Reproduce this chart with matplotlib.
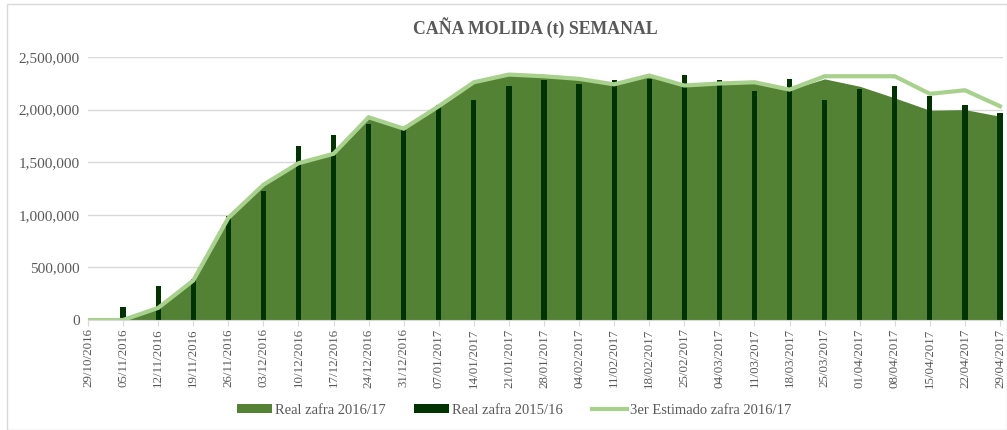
import matplotlib
matplotlib.use("Agg")
import matplotlib.pyplot as plt
from matplotlib.ticker import FuncFormatter
from matplotlib.patches import Rectangle, Patch
from matplotlib.lines import Line2D
import numpy as np

weeks = ['29/10/2016', '05/11/2016', '12/11/2016', '19/11/2016', '26/11/2016',
         '03/12/2016', '10/12/2016', '17/12/2016', '24/12/2016', '31/12/2016',
         '07/01/2017', '14/01/2017', '21/01/2017', '28/01/2017', '04/02/2017',
         '11/02/2017', '18/02/2017', '25/02/2017', '04/03/2017', '11/03/2017',
         '18/03/2017', '25/03/2017', '01/04/2017', '08/04/2017', '15/04/2017',
         '22/04/2017', '29/04/2017']

real_2016_17 = [0, 0, 115000, 375000, 970000, 1285000, 1490000, 1580000, 1927000,
                1819000, 2032000, 2260000, 2333000, 2317000, 2292000, 2240000,
                2324000, 2229000, 2248000, 2260000, 2190000, 2292000, 2222000,
                2111000, 1994000, 2000000, 1937000]

real_2015_16 = [0, 127000, 324000, 388000, 984000, 1222000, 1657000, 1755000, 1863000,
                1810000, 2041000, 2095000, 2229000, 2286000, 2245000, 2279000,
                2295000, 2327000, 2286000, 2181000, 2292000, 2089000, 2197000,
                2229000, 2127000, 2048000, 1968000]

estimado_2016_17 = [0, 0, 115000, 375000, 970000, 1285000, 1490000, 1580000, 1927000,
                    1819000, 2032000, 2260000, 2333000, 2317000, 2292000, 2240000,
                    2324000, 2229000, 2248000, 2260000, 2190000, 2317000, 2317000,
                    2317000, 2150000, 2184000, 2032000]

series_names = ['Real zafra 2016/17', 'Real zafra 2015/16', '3er Estimado zafra 2016/17']
title = 'CAÑA MOLIDA (t) SEMANAL'

C_AREA = '#548235'
C_BAR = '#003300'
C_LINE = '#A9D18E'
C_GRID = '#D9D9D9'
C_TEXT = '#595959'

plt.rcParams['font.family'] = ['Liberation Serif', 'DejaVu Serif']

W, H = 1007, 430
fig = plt.figure(figsize=(W / 100, H / 100), dpi=100)

# chart border
fig.patches.append(Rectangle((7 / W, 0), (W - 7) / W, 1 - 4 / H, transform=fig.transFigure,
                             fill=False, edgecolor=C_GRID, linewidth=1.0))

left, right, top, bottom = 88, 1003, 57, 320
ax = fig.add_axes([left / W, 1 - bottom / H, (right - left) / W, (bottom - top) / H])

x = np.arange(len(weeks))
ax.fill_between(x, real_2016_17, 0, color=C_AREA, linewidth=0, zorder=2)
ax.bar(x, real_2015_16, width=0.15, color=C_BAR, zorder=3)
ax.plot(x, estimado_2016_17, color=C_LINE, linewidth=3, zorder=4, solid_joinstyle='miter')

ax.set_xlim(0, (len(weeks) - 1) * (right - left) / (1000 - left))
ax.set_ylim(0, 2500000)
ax.set_yticks(np.arange(0, 2500001, 500000))
ax.yaxis.set_major_formatter(FuncFormatter(lambda v, p: f'{int(v):,}'))
ax.set_xticks(x)
ax.set_xticklabels(weeks, rotation=90, fontsize=9.4, color=C_TEXT)
ax.tick_params(axis='y', length=0, pad=6, labelsize=11, labelcolor=C_TEXT)
ax.tick_params(axis='x', length=4, width=0.8, color=C_GRID, pad=2)
ax.grid(axis='y', color=C_GRID, linewidth=1, zorder=0)
ax.set_axisbelow(True)
for s in ['top', 'right', 'left']:
    ax.spines[s].set_visible(False)
ax.spines['bottom'].set_color(C_GRID)
ax.spines['bottom'].set_zorder(5)

fig.text(535 / W, 1 - 28 / H, title, ha='center', va='center', fontsize=12.8,
         fontweight='bold', color=C_TEXT)

handles = [Patch(facecolor=C_AREA, edgecolor='none'),
           Patch(facecolor=C_BAR, edgecolor='none'),
           Line2D([0], [0], color=C_LINE, linewidth=3)]
leg = fig.legend(handles, series_names, loc='center', bbox_to_anchor=(514 / W, 1 - 410 / H),
                 ncol=3, frameon=False, fontsize=10.5, handlelength=2.4, handleheight=0.6,
                 handletextpad=0.2, columnspacing=2.0, labelcolor=C_TEXT)

fig.savefig('out.png', dpi=100)
